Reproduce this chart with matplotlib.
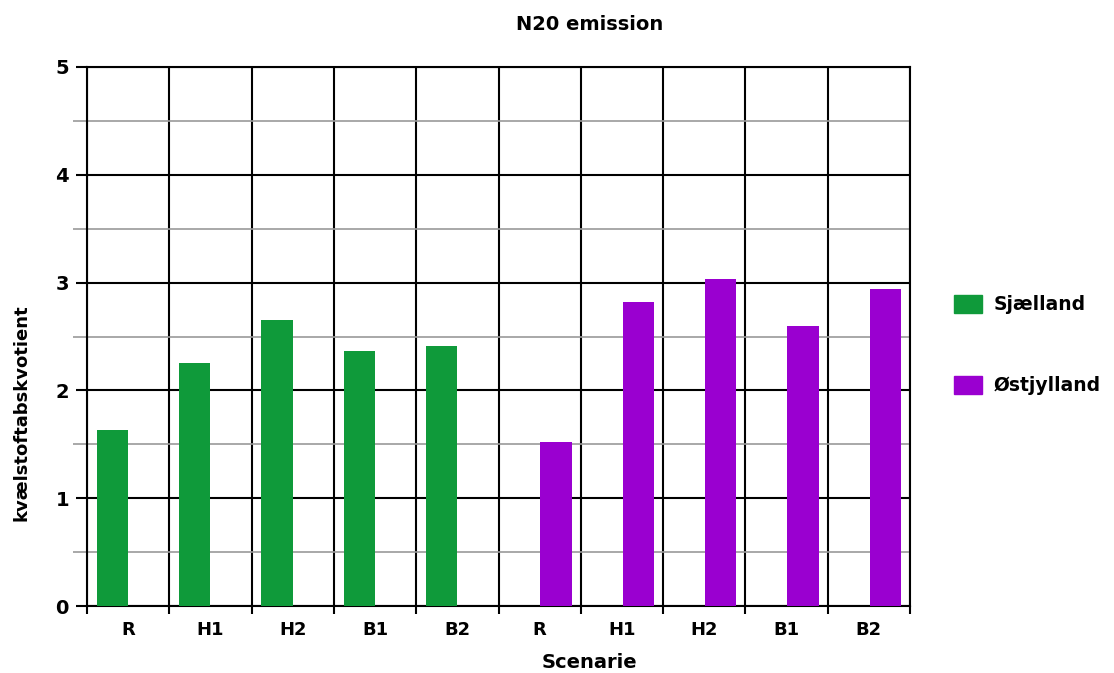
import numpy as np
import matplotlib
matplotlib.use("Agg")
import matplotlib.pyplot as plt
from matplotlib.patches import Patch

# values
scenarios = ['R', 'H1', 'H2', 'B1', 'B2']
sjaelland = [1.63, 2.25, 2.65, 2.37, 2.41]
ostjylland = [1.52, 2.82, 3.03, 2.60, 2.94]
series_names = ['Sjælland', 'Østjylland']
series_colors = ['#0F9A3A', '#9A00D0']

plt.rcParams['font.family'] = ['DejaVu Sans']
plt.rcParams['font.weight'] = 'bold'

fig = plt.figure(figsize=(11.14, 6.73), dpi=100)
ax = fig.add_axes([87 / 1114, 1 - 606 / 673, 823 / 1114, 539 / 673])

n = len(scenarios)
x_sj = np.arange(n)
x_os = np.arange(n, 2 * n)
w = 0.38
ax.bar(x_sj - 0.19, sjaelland, width=w, color=series_colors[0], zorder=3)
ax.bar(x_os + 0.20, ostjylland, width=w, color=series_colors[1], zorder=3)

ax.set_xlim(-0.5, 2 * n - 0.5)
ax.set_ylim(0, 5)

# x: labels at centres, black separators at category boundaries
ax.set_xticks(np.arange(2 * n))
ax.set_xticklabels(scenarios + scenarios, fontsize=13, fontweight='bold')
ax.set_xticks(np.arange(-0.5, 2 * n), minor=True)
ax.tick_params(axis='x', which='major', length=0, pad=11)
ax.tick_params(axis='x', which='minor', length=6, width=1.5, color='black')
ax.grid(axis='x', which='minor', color='black', linewidth=1.5, zorder=1)

# y: black lines at integers, grey at halves
ax.set_yticks(np.arange(0, 6))
ax.set_yticklabels([str(v) for v in range(6)], fontsize=14, fontweight='bold')
ax.set_yticks(np.arange(0.5, 5, 1.0), minor=True)
ax.tick_params(axis='y', which='major', length=8, width=1.5, color='black', pad=5)
ax.tick_params(axis='y', which='minor', length=10, width=1.2, color='#999999')
ax.grid(axis='y', which='major', color='black', linewidth=1.5, zorder=1)
ax.grid(axis='y', which='minor', color='#999999', linewidth=1.2, zorder=1)

for s in ax.spines.values():
    s.set_linewidth(1.5)
    s.set_color('black')
ax.set_axisbelow(True)

fig.text(590 / 1114, 1 - 24 / 673, 'N20 emission', ha='center', va='center',
         fontsize=14, fontweight='bold')
fig.text(589 / 1114, 1 - 662 / 673, 'Scenarie', ha='center', va='center',
         fontsize=14, fontweight='bold')
fig.text(22 / 1114, 1 - 413 / 673, 'kvælstoftabskvotient', ha='center', va='center',
         rotation=90, fontsize=13, fontweight='bold')

handles = [Patch(color=c) for c in series_colors]
fig.legend(handles, series_names, loc='center left', bbox_to_anchor=(937 / 1114, 1 - 345 / 673),
           frameon=False, labelspacing=3.3, handlelength=1.5, handleheight=1.1,
           handletextpad=0.6, prop={'weight': 'bold', 'size': 13.5})

fig.savefig('out.png', dpi=100)
